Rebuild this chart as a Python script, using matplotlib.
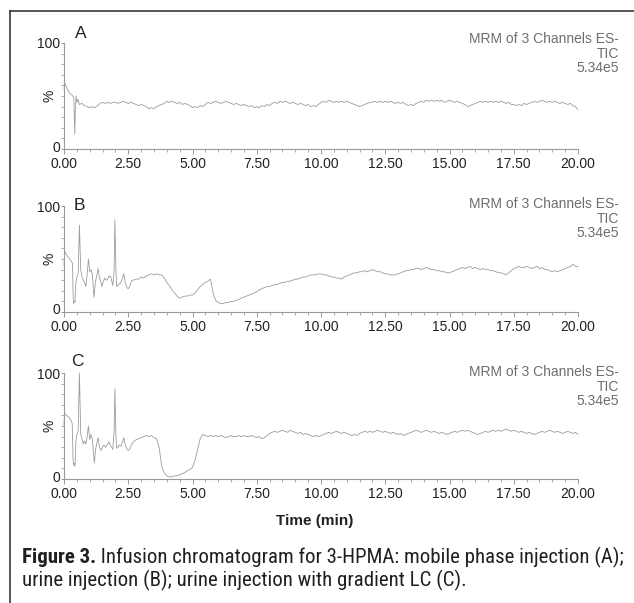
import numpy as np
import matplotlib
matplotlib.use("Agg")
import matplotlib.pyplot as plt
from matplotlib.lines import Line2D
from matplotlib.ticker import MultipleLocator
from matplotlib.transforms import ScaledTranslation
from matplotlib import font_manager

# ---- data (time in min, signal in %) ----
# Panel A: mobile phase injection
a_early_t = [0.0, 0.03, 0.1, 0.2, 0.3, 0.38, 0.40, 0.42, 0.44, 0.47, 0.5, 0.55, 0.6, 0.7, 0.8, 0.9]
a_early_v = [57, 62, 58, 53, 51, 49, 30, 14, 35, 50, 44, 47, 42, 43, 41, 40]
a_tail_start = 1.0
a_tail_v = [
    39, 40, 39, 41, 43, 44, 43, 44, 43, 44,
    44, 43, 44, 45, 44, 43, 44, 43, 42, 41,
    42, 41, 40, 38, 39, 38, 40, 41, 42, 43,
    45, 44, 45, 44, 43, 44, 42, 43, 42, 41,
    39, 40, 39, 41, 40, 42, 44, 43, 44, 45,
    44, 43, 44, 45, 44, 43, 42, 43, 42, 41,
    42, 41, 40, 41, 39, 40, 39, 41, 40, 42,
    41, 43, 44, 43, 45, 44, 45, 44, 43, 44,
    43, 42, 43, 42, 41, 42, 40, 41, 40, 42,
    44, 45, 44, 46, 45, 44, 45, 44, 45, 44,
    45, 44, 43, 42, 41, 40, 41, 42, 43, 44,
    44, 45, 44, 45, 44, 45, 44, 45, 44, 43,
    44, 43, 44, 42, 41, 42, 41, 43, 44, 45,
    44, 46, 45, 46, 45, 46, 45, 46, 44, 45,
    46, 45, 44, 45, 44, 43, 42, 40, 41, 42,
    43, 44, 45, 44, 45, 44, 45, 44, 45, 44,
    45, 44, 43, 44, 42, 42, 41, 42, 41, 43,
    42, 43, 44, 45, 44, 45, 46, 45, 44, 45,
    44, 45, 44, 43, 44, 43, 42, 43, 41, 40,
    37,
]

# Panel B: urine injection
b_early_t = [0.0, 0.03, 0.08, 0.15, 0.25, 0.33, 0.35, 0.37, 0.40, 0.43, 0.45, 0.5, 0.55, 0.6,
             0.65, 0.7, 0.75, 0.8, 0.85, 0.9, 0.95, 1.0, 1.05, 1.1, 1.17, 1.22, 1.28, 1.33,
             1.38, 1.42, 1.47, 1.52, 1.58, 1.63, 1.7, 1.75, 1.82, 1.9, 1.95, 1.98, 2.02,
             2.05, 2.1, 2.15, 2.2, 2.25, 2.33, 2.38, 2.45, 2.5, 2.55, 2.6, 2.65]
b_early_v = [44, 57, 55, 52, 49, 46, 20, 8, 10, 9, 25, 33, 36, 82,
             40, 33, 30, 28, 24, 35, 50, 38, 40, 36, 14, 28, 35, 41,
             32, 30, 24, 28, 32, 30, 31, 34, 33, 25, 40, 87, 40,
             24, 25, 27, 27, 30, 36, 28, 23, 22, 24, 27, 30]
b_tail_start = 2.7
b_tail_v = [
    30, 31, 31,
    33, 32, 34, 35, 36, 35, 36, 35, 35, 32,
    28, 25, 21, 18, 15, 13, 14, 15, 15, 16,
    16, 18, 21, 24, 26, 28, 29, 31, 18, 11,
    9, 8, 8, 9, 9, 10, 10, 11, 12, 13,
    14, 15, 16, 17, 18, 19, 21, 22, 23, 24,
    24, 25, 26, 26, 27, 28, 28, 29, 29, 30,
    31, 31, 32, 33, 33, 34, 35, 35, 35, 36,
    36, 35, 35, 34, 33, 33, 32, 32, 31, 33,
    34, 35, 36, 37, 37, 38, 38, 39, 38, 39,
    40, 39, 38, 38, 37, 36, 36, 35, 35, 35,
    36, 37, 38, 39, 39, 40, 40, 41, 41, 40,
    41, 42, 41, 40, 40, 39, 39, 38, 38, 37,
    37, 38, 39, 40, 41, 42, 41, 42, 43, 41,
    42, 41, 40, 41, 40, 40, 39, 39, 38, 37,
    37, 36, 35, 37, 39, 41, 42, 43, 42, 42,
    43, 42, 41, 42, 43, 41, 42, 40, 40, 39,
    38, 39, 38, 39, 40, 41, 42, 43, 45, 43,
    43,
]

# Panel C: urine injection with gradient LC
c_early_t = [0.0, 0.02, 0.1, 0.2, 0.28, 0.32, 0.35, 0.37, 0.40, 0.43, 0.46, 0.5, 0.55, 0.6,
             0.65, 0.7, 0.75, 0.8, 0.85, 0.9, 0.95, 1.0, 1.05, 1.1, 1.18, 1.23, 1.28, 1.33,
             1.38, 1.43, 1.5, 1.55, 1.62, 1.7, 1.75, 1.82, 1.9, 1.95, 1.98, 2.02, 2.05,
             2.1, 2.15, 2.22, 2.28, 2.33, 2.38, 2.45, 2.5, 2.55, 2.6, 2.65]
c_early_v = [50, 62, 60, 58, 55, 52, 20, 13, 15, 12, 35, 42, 45, 100,
             42, 38, 33, 36, 33, 40, 50, 37, 42, 38, 15, 28, 34, 39,
             30, 27, 30, 32, 30, 33, 35, 31, 28, 45, 85, 40, 29,
             30, 32, 31, 35, 39, 33, 28, 27, 28, 31, 33]
c_tail_start = 2.7
c_tail_v = [
    35, 37, 38,
    39, 40, 41, 40, 41, 39, 38, 30, 12, 6,
    3, 2, 2, 3, 3, 4, 5, 6, 8, 9,
    11, 18, 28, 38, 42, 41, 40, 41, 40, 41,
    40, 41, 40, 39, 40, 41, 40, 40, 41, 40,
    41, 40, 40, 41, 40, 39, 40, 38, 39, 41,
    43, 44, 45, 44, 45, 46, 45, 44, 46, 45,
    44, 43, 44, 42, 43, 42, 41, 40, 41, 40,
    41, 42, 43, 44, 43, 44, 45, 44, 43, 44,
    43, 42, 41, 42, 41, 43, 44, 45, 44, 45,
    44, 45, 46, 45, 44, 45, 44, 43, 44, 43,
    42, 43, 41, 42, 43, 44, 45, 46, 45, 44,
    45, 46, 45, 44, 45, 44, 43, 44, 43, 42,
    43, 44, 45, 44, 45, 46, 45, 46, 45, 44,
    43, 42, 43, 44, 45, 44, 45, 46, 45, 46,
    45, 46, 47, 46, 45, 46, 45, 44, 45, 44,
    43, 44, 43, 42, 43, 44, 45, 44, 45, 46,
    45, 44, 45, 44, 43, 44, 45, 44, 43, 44,
    42,
]

panel_labels = ["A", "B", "C"]
header_text = "MRM of 3 Channels ES-\nTIC\n5.34e5"
xtick_labels = ["0.00", "2.50", "5.00", "7.50", "10.00", "12.50", "15.00", "17.50", "20.00"]
caption_bold = "Figure 3."
caption_line1 = " Infusion chromatogram for 3-HPMA: mobile phase injection (A);"
caption_line2 = "urine injection (B); urine injection with gradient LC (C)."


def trace(early_t, early_v, tail_start, tail_v):
    tail_t = tail_start + 0.1 * np.arange(len(tail_v))
    return np.concatenate([early_t, tail_t]), np.concatenate([early_v, tail_v])


traces = [
    trace(a_early_t, a_early_v, a_tail_start, a_tail_v),
    trace(b_early_t, b_early_v, b_tail_start, b_tail_v),
    trace(c_early_t, c_early_v, c_tail_start, c_tail_v),
]

plt.rcParams['font.family'] = ['Liberation Sans', 'DejaVu Sans']
SANS = ['Liberation Sans', 'DejaVu Sans']

# pick a narrow face for the caption if one is installed
names = {f.name for f in font_manager.fontManager.ttflist}
cap_font = SANS
cap_stretch = 'normal'
for cand in ['Liberation Sans Narrow', 'Roboto Condensed', 'Open Sans Condensed',
             'Noto Sans Condensed', 'DejaVu Sans Condensed']:
    if cand in names:
        cap_font = [cand, 'DejaVu Sans']
        break
else:
    for f in font_manager.fontManager.ttflist:
        if f.name in ('Noto Sans', 'Roboto', 'DejaVu Sans') and 'condensed' in str(f.stretch).lower():
            cap_font = [f.name, 'DejaVu Sans']
            cap_stretch = 'condensed'
            break

W, H = 634, 603
fig = plt.figure(figsize=(W / 100, H / 100), dpi=100)

# axes boxes in pixels: (y of 0 %, y of 100 %)
boxes = [(149, 43), (312, 206), (479, 373)]
label_pos = [(81, 34), (79, 206), (77, 362)]
header_y = [32, 197, 365]
x0, x1 = 64, 578
line_col = '#9c9c9c'
axis_col = '#9a9a9a'
text_col = '#222222'

for i, ((yb, yt), (t, v)) in enumerate(zip(boxes, traces)):
    ax = fig.add_axes([x0 / W, 1 - yb / H, (x1 - x0) / W, (yb - yt) / H])
    ax.plot(t, v, color=line_col, lw=0.6, clip_on=False)
    ax.set_xlim(0, 20)
    ax.set_ylim(0, 100)
    for s in ['top', 'right']:
        ax.spines[s].set_visible(False)
    for s in ['left', 'bottom']:
        ax.spines[s].set_color(axis_col)
        ax.spines[s].set_linewidth(0.8)
    ax.set_xticks(np.arange(0, 20.01, 2.5))
    ax.set_xticklabels(xtick_labels, family=SANS)
    ax.xaxis.set_minor_locator(MultipleLocator(0.5))
    ax.set_yticks([0, 100])
    ax.set_yticklabels(["0", "100"], family=SANS)
    ax.yaxis.set_minor_locator(MultipleLocator(10))
    ax.tick_params(axis='x', which='major', length=3.5, width=0.7, color=axis_col,
                   labelsize=10, labelcolor=text_col, pad=2.5)
    ax.tick_params(axis='x', which='minor', length=1.8, width=0.6, color=axis_col)
    ax.tick_params(axis='y', which='major', length=2.5, width=0.7, color=axis_col,
                   labelsize=10, labelcolor=text_col, pad=0.5)
    ax.tick_params(axis='y', which='minor', length=2.5, width=0.6, color=axis_col)
    # lift the "0" label a little so it sits clear of "0.00"
    zero_lab = ax.get_yticklabels()[0]
    zero_lab.set_transform(zero_lab.get_transform() + ScaledTranslation(0, 3 / 100, fig.dpi_scale_trans))
    ax.patch.set_alpha(0)
    ax.text(-0.029, 0.5, '%', transform=ax.transAxes, rotation=90,
            ha='center', va='center', fontsize=10, color=text_col, family=SANS)
    lx, ly = label_pos[i]
    fig.text(lx / W, 1 - ly / H, panel_labels[i], ha='center', va='center',
             fontsize=12.5, color=text_col, family=SANS)
    fig.text(619 / W, 1 - header_y[i] / H, header_text, ha='right', va='top',
             multialignment='right', fontsize=10, color='#6e6e6e', linespacing=1.05,
             family=SANS)

fig.text(315 / W, 1 - 521 / H, 'Time (min)', ha='center', va='center',
         fontsize=11, fontweight='bold', color=text_col, family=SANS)

# border lines of the figure frame
frame_col = '#3a3a3a'
fig.add_artist(Line2D([10 / W, 1.0], [1 - 11 / H, 1 - 11 / H], color=frame_col, lw=1.2))
fig.add_artist(Line2D([10 / W, 10 / W], [1 - 11 / H, 0.0], color=frame_col, lw=1.2))

# caption: fit the first line to the width it takes in the reference (x 22 -> 627)
cap_col = '#231f20'
cap_size = 15.0
kw = dict(ha='left', va='baseline', family=cap_font, stretch=cap_stretch, color=cap_col)
t1 = fig.text(22 / W, 1 - 563 / H, caption_bold, fontsize=cap_size, fontweight='bold', **kw)
t2 = fig.text(0.5, 1 - 563 / H, caption_line1, fontsize=cap_size, **kw)
fig.canvas.draw()
r = fig.canvas.get_renderer()
width = t1.get_window_extent(r).width + t2.get_window_extent(r).width
cap_size = cap_size * (627 - 22) / width
t1.set_fontsize(cap_size)
t2.set_fontsize(cap_size)
fig.canvas.draw()
t2.set_x(t1.get_window_extent(r).x1 / W)
fig.text(22 / W, 1 - 586 / H, caption_line2, fontsize=cap_size, **kw)

fig.savefig('out.png', dpi=100)
